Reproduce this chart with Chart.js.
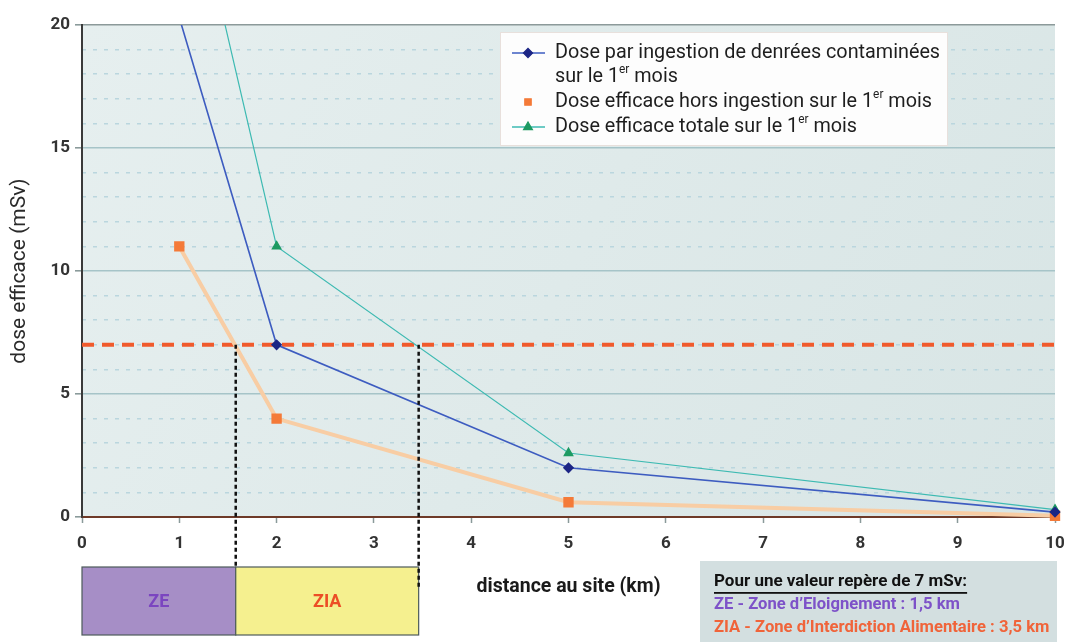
<!DOCTYPE html>
<html><head><meta charset="utf-8">
<script src="https://cdn.jsdelivr.net/npm/chart.js@4/dist/chart.umd.min.js"></script>
<style>html,body{margin:0;padding:0;background:#fff;overflow:hidden}</style>
</head><body>
<canvas id="c" width="1065" height="642"></canvas>
<script>
// ---- data ----
const distances = [1, 2, 5, 10];
const doseIngestion = [20.3, 7, 2, 0.2];
const doseHorsIngestion = [11, 4, 0.6, 0.05];
const doseTotale = [28, 11, 2.6, 0.3];
const xTickValues = [0, 1, 2, 3, 4, 5, 6, 7, 8, 9, 10];
const yTickValues = [0, 5, 10, 15, 20];
const seuil = 7;
const zoneLimits = [0, 1.58, 3.46];
const zoneLabels = ['ZE', 'ZIA'];
const seriesLabels = [
  ['Dose par ingestion de denrées contaminées', 'sur le 1^er^ mois'],
  ['Dose efficace hors ingestion sur le 1^er^ mois'],
  ['Dose efficace totale sur le 1^er^ mois']
];
const infoTitle = 'Pour une valeur repère de 7 mSv:';
const infoLines = ['ZE - Zone d\u2019Eloignement : 1,5 km', 'ZIA - Zone d\u2019Interdiction Alimentaire : 3,5 km'];
const xTitle = 'distance au site (km)';
const yTitle = 'dose efficace (mSv)';

const FF = "Roboto, 'Liberation Sans', sans-serif";
const toXY = ys => distances.map((d, i) => ({x: d, y: ys[i]}));

function drawRich(ctx, text, x, y, size, weight) {
  const parts = text.split('^');
  let cx = x;
  parts.forEach((p, i) => {
    const sup = i % 2 === 1;
    ctx.font = (weight || '') + ' ' + (sup ? size * 0.6 : size) + 'px ' + FF;
    ctx.fillText(p, cx, sup ? y - size * 0.35 : y);
    cx += ctx.measureText(p).width;
  });
}

const decor = {
  id: 'decor',
  beforeDraw(chart) {
    const {ctx, chartArea: a} = chart;
    ctx.save();
    const g = ctx.createLinearGradient(a.left, a.top, a.right, a.bottom);
    g.addColorStop(0, '#e6efef');
    g.addColorStop(1, '#d8e5e5');
    ctx.fillStyle = g;
    ctx.fillRect(a.left, a.top, a.right - a.left, a.bottom - a.top);
    ctx.restore();
  },
  beforeDatasetsDraw(chart) {
    const {ctx, chartArea: a, scales: {y}} = chart;
    const py = y.getPixelForValue(seuil);
    ctx.save();
    ctx.strokeStyle = '#f05a2c';
    ctx.lineWidth = 4;
    ctx.setLineDash([12, 8]);
    ctx.beginPath(); ctx.moveTo(a.left, py); ctx.lineTo(a.right, py); ctx.stroke();
    ctx.restore();
  },
  afterDraw(chart) {
    const {ctx, chartArea: a, scales: {x, y}} = chart;
    const py = y.getPixelForValue(seuil);
    ctx.save();
    // zone boxes
    const boxTop = 567, boxBot = 635;
    const fills = ['#a68ec6', '#f5f08f'];
    const tcol = ['#7b45c0', '#ec4e26'];
    for (let i = 0; i < zoneLabels.length; i++) {
      const x0 = x.getPixelForValue(zoneLimits[i]);
      const x1 = x.getPixelForValue(zoneLimits[i + 1]);
      ctx.fillStyle = fills[i];
      ctx.fillRect(x0, boxTop, x1 - x0, boxBot - boxTop);
      ctx.strokeStyle = '#4d5a5a';
      ctx.lineWidth = 1.2;
      ctx.setLineDash([]);
      ctx.strokeRect(x0, boxTop, x1 - x0, boxBot - boxTop);
      ctx.fillStyle = tcol[i];
      ctx.font = 'bold 18px ' + FF;
      ctx.textAlign = 'center'; ctx.textBaseline = 'middle';
      ctx.fillText(zoneLabels[i], (x0 + x1) / 2, 602);
    }
    // dashed verticals
    ctx.strokeStyle = '#111';
    ctx.lineWidth = 2.5;
    ctx.setLineDash([4, 3]);
    [zoneLimits[1], zoneLimits[2]].forEach((v, i) => {
      const px = x.getPixelForValue(v);
      ctx.beginPath(); ctx.moveTo(px, py); ctx.lineTo(px, i === 0 ? boxTop : 588); ctx.stroke();
    });
    ctx.setLineDash([]);

    // legend
    ctx.fillStyle = '#fdfdfd';
    ctx.fillRect(500, 32, 447, 113);
    ctx.strokeStyle = '#e8e0dc'; ctx.lineWidth = 1;
    ctx.strokeRect(500.5, 32.5, 447, 113);
    const rows = [[53, 77], [102], [127]];
    const ds = chart.data.datasets;
    ctx.textAlign = 'left'; ctx.textBaseline = 'middle';
    ds.forEach((d, i) => {
      const ly = rows[i][0];
      if (i !== 1) {
        ctx.strokeStyle = d.borderColor; ctx.lineWidth = 1.3;
        ctx.beginPath(); ctx.moveTo(512, ly); ctx.lineTo(545, ly); ctx.stroke();
      }
      ctx.fillStyle = d.pointBackgroundColor; ctx.strokeStyle = d.pointBorderColor;
      Chart.helpers.drawPoint(ctx, {pointStyle: d.pointStyle, radius: d.pointRadius, rotation: 0, borderWidth: 1}, 528, ly);
      ctx.fillStyle = '#1e1e1e';
      seriesLabels[i].forEach((t, k) => drawRich(ctx, t, 555, rows[i][k], 19.8, ''));
    });

    // info box
    ctx.fillStyle = '#d3dfe0';
    ctx.fillRect(700, 561, 357, 81);
    ctx.textAlign = 'left'; ctx.textBaseline = 'middle';
    ctx.fillStyle = '#111';
    ctx.font = 'bold 17px ' + FF;
    ctx.fillText(infoTitle, 714, 582);
    const w = ctx.measureText(infoTitle).width;
    ctx.fillRect(714, 592, w, 1.8);
    ctx.font = 'bold 16.6px ' + FF;
    ctx.fillStyle = '#7d52c8';
    ctx.fillText(infoLines[0], 714, 605);
    ctx.fillStyle = '#f0643a';
    ctx.fillText(infoLines[1], 714, 628);
    ctx.restore();
  }
};

new Chart(document.getElementById('c'), {
  type: 'line',
  data: {
    datasets: [
      {label: seriesLabels[0].join(' '), data: toXY(doseIngestion), borderColor: '#3d5cc0', borderWidth: 1.6,
       pointStyle: 'rectRot', pointRadius: 4.5, pointBackgroundColor: '#1c2585', pointBorderColor: '#1c2585',
       tension: 0, clip: {left: 0, top: 0, right: 8, bottom: 8}, order: 1},
      {label: seriesLabels[1].join(' '), data: toXY(doseHorsIngestion), borderColor: '#f8cda4', borderWidth: 4,
       pointStyle: 'rect', pointRadius: 4.5, pointBackgroundColor: '#f47a38', pointBorderColor: '#f47a38',
       tension: 0, clip: {left: 0, top: 0, right: 8, bottom: 8}, order: 3},
      {label: seriesLabels[2].join(' '), data: toXY(doseTotale), borderColor: '#3dbab2', borderWidth: 1.2,
       pointStyle: 'triangle', pointRadius: 5, pointBackgroundColor: '#1d9a62', pointBorderColor: '#1d9a62',
       tension: 0, clip: {left: 0, top: 0, right: 8, bottom: 8}, order: 2}
    ]
  },
  options: {
    responsive: false,
    animation: false,
    devicePixelRatio: 1,
    layout: {padding: {left: 0, top: 25, right: 0, bottom: 0}},
    plugins: {legend: {display: false}, tooltip: {enabled: false}},
    scales: {
      x: {
        type: 'linear', min: 0, max: 10,
        afterBuildTicks: s => { s.ticks = xTickValues.map(v => ({value: v})); },
        afterFit: s => { s.height = 125; s.paddingRight = 10; s.paddingLeft = 0; },
        ticks: {color: '#333', font: {family: FF, size: 17, weight: 'bold'}, padding: 11},
        grid: {drawOnChartArea: false, drawTicks: true, tickLength: 6, tickColor: '#8a9a9a', tickWidth: 1.5},
        border: {display: true, color: '#6e3a28', width: 2},
        title: {display: true, text: xTitle, color: '#1a1a1a', font: {family: FF, size: 19.5, weight: 'bold'}, padding: {top: 0, bottom: 43}}
      },
      yMinor: {
        type: 'linear', position: 'left', min: 0, max: 20,
        ticks: {display: false, stepSize: 1},
        afterFit: s => { s.width = 0; },
        grid: {color: c => (c.tick && c.tick.value % 5 === 0) ? 'rgba(0,0,0,0)' : '#bad6de', lineWidth: 1.5, drawTicks: false},
        border: {display: false, dash: [4, 7]}
      },
      y: {
        type: 'linear', position: 'left', min: 0, max: 20,
        afterBuildTicks: s => { s.ticks = yTickValues.map(v => ({value: v})); },
        afterFit: s => { s.width = 82; },
        ticks: {color: '#333', font: {family: FF, size: 17, weight: 'bold'}, padding: 5},
        grid: {color: c => (c.tick && c.tick.value === 20) ? '#8c9a9a' : (c.tick && c.tick.value === 0 ? 'rgba(0,0,0,0)' : '#a6c4c8'),
               lineWidth: 1.6, tickLength: 7, tickColor: '#8a9a9a'},
        border: {display: true, color: '#3a3a3a', width: 2},
        title: {display: true, text: yTitle, color: '#2a2a2a', font: {family: FF, size: 21}, padding: {top: 7, bottom: 0}}
      }
    }
  },
  plugins: [decor]
});
</script>
</body></html>
